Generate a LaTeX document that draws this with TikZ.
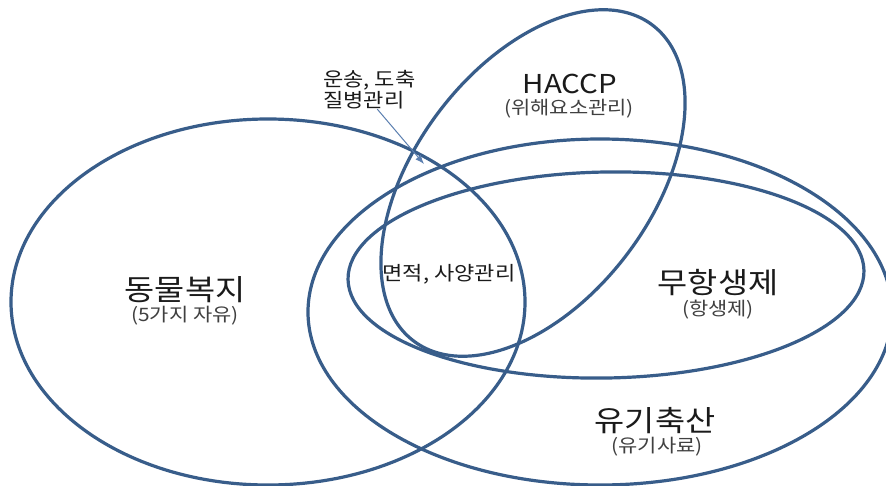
\documentclass[tikz,border=0pt]{standalone}
\usepackage{fontspec}
\setmainfont{Noto Sans CJK KR}[FakeStretch=1.13]
\usetikzlibrary{arrows.meta}
\definecolor{vennblue}{HTML}{385D8A}
\definecolor{arrblue}{HTML}{5B7FB0}
\definecolor{txt}{HTML}{1A1A1A}
\definecolor{subtxt}{HTML}{404040}
\begin{document}
\begin{tikzpicture}[x=1pt,y=-1pt,
  venn/.style={draw=vennblue, line width=3.2pt},
  title/.style={text=txt, font=\fontsize{29}{31}\selectfont, inner sep=0pt},
  sub/.style={text=subtxt, font=\fontsize{18.5}{20}\selectfont, inner sep=0pt},
  mid/.style={text=txt, font=\fontsize{19.5}{21}\selectfont, inner sep=0pt},
  arr/.style={draw=arrblue, line width=1pt, -{Latex[length=9pt,width=7pt]}}]
\useasboundingbox (0,0) rectangle (886,485);
\fill[white] (0,0) rectangle (886,485);
\clip (0,0) rectangle (886,485);
% ellipses
\draw[venn] (268,302) ellipse [x radius=257, y radius=183];
\draw[venn] (600,312) ellipse [x radius=292, y radius=173];
\draw[venn, rotate around={1:(606,275)}] (606,275) ellipse [x radius=258, y radius=103];
\draw[venn, rotate around={52.9:(533,183)}] (533,183) ellipse [x radius=198, y radius=118];
% labels
\node[title] (dw) at (185,290) {동물복지};
\node[sub] (dws) at (185,316) {(5가지 자유)};
\node[title, font=\fontsize{26}{28}\selectfont] (hc) at (570,84) {HACCP};
\node[sub] (hcs) at (569,109) {(위해요소관리)};
\node[mid] (mj) at (449,274) {면적, 사양관리};
\node[title] (mh) at (718,283) {무항생제};
\node[sub] (mhs) at (718,310) {(항생제)};
\node[title] (yg) at (655,421) {유기축산};
\node[sub] (ygs) at (657,447) {(유기사료)};
\node[mid, align=left, anchor=north west] (tr) at (323,70) {운송, 도축\\질병관리};
\coordinate (tip) at (424,164);
\draw[arr] ([xshift=8]tr.south) -- (tip);
\end{tikzpicture}
\end{document}
